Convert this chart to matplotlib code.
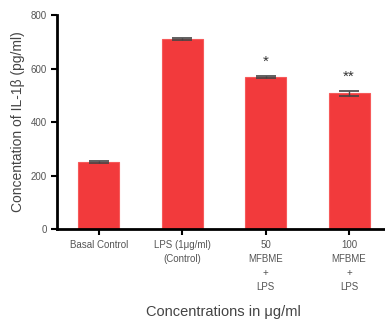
import matplotlib.pyplot as plt

plt.rcParams['font.family'] = ['Liberation Sans', 'DejaVu Sans']

grupos = ['Basal Control', 'LPS (1\u03bcg/ml)\n(Control)', '50\nMFBME\n+\nLPS', '100\nMFBME\n+\nLPS']
valores = [250, 712, 568, 507]
erros = [3, 4, 3, 8]
marcas = ['', '', '*', '**']

fig = plt.figure(figsize=(3.85, 3.2), dpi=100)
ax = fig.add_axes([0.148, 0.284, 0.852, 0.669])

x = range(len(grupos))
ax.bar(x, valores, width=0.49, color='#f23a3c', edgecolor='#f65a5a', linewidth=0.8,
       yerr=erros, error_kw=dict(ecolor='#444444', capsize=7, elinewidth=1, capthick=1.2))

for i, m in enumerate(marcas):
    if m:
        ax.text(i, valores[i] + erros[i] + 28, m, ha='center', va='bottom',
                fontsize=11, color='#333333')

ax.set_xlim(-0.5, 3.43)
ax.set_ylim(0, 800)
ax.set_yticks([0, 200, 400, 600, 800])
ax.set_xticks(list(x))
ax.set_xticklabels(grupos, fontsize=7, color='#555555', linespacing=1.5)
ax.tick_params(axis='y', labelsize=7, labelcolor='#555555', length=4, width=1.5, direction='out')
ax.tick_params(axis='x', length=4, width=1.5, direction='out')

ax.spines['top'].set_visible(False)
ax.spines['right'].set_visible(False)
ax.spines['left'].set_linewidth(2)
ax.spines['bottom'].set_linewidth(2)

ax.set_ylabel('Concentation of IL-1\u03b2 (pg/ml)', fontsize=10, color='#444444', labelpad=4)
fig.text(0.58, 0.025, 'Concentrations in \u03bcg/ml', fontsize=10.5, color='#444444',
         ha='center', va='center')

fig.savefig('out.png', dpi=100)
